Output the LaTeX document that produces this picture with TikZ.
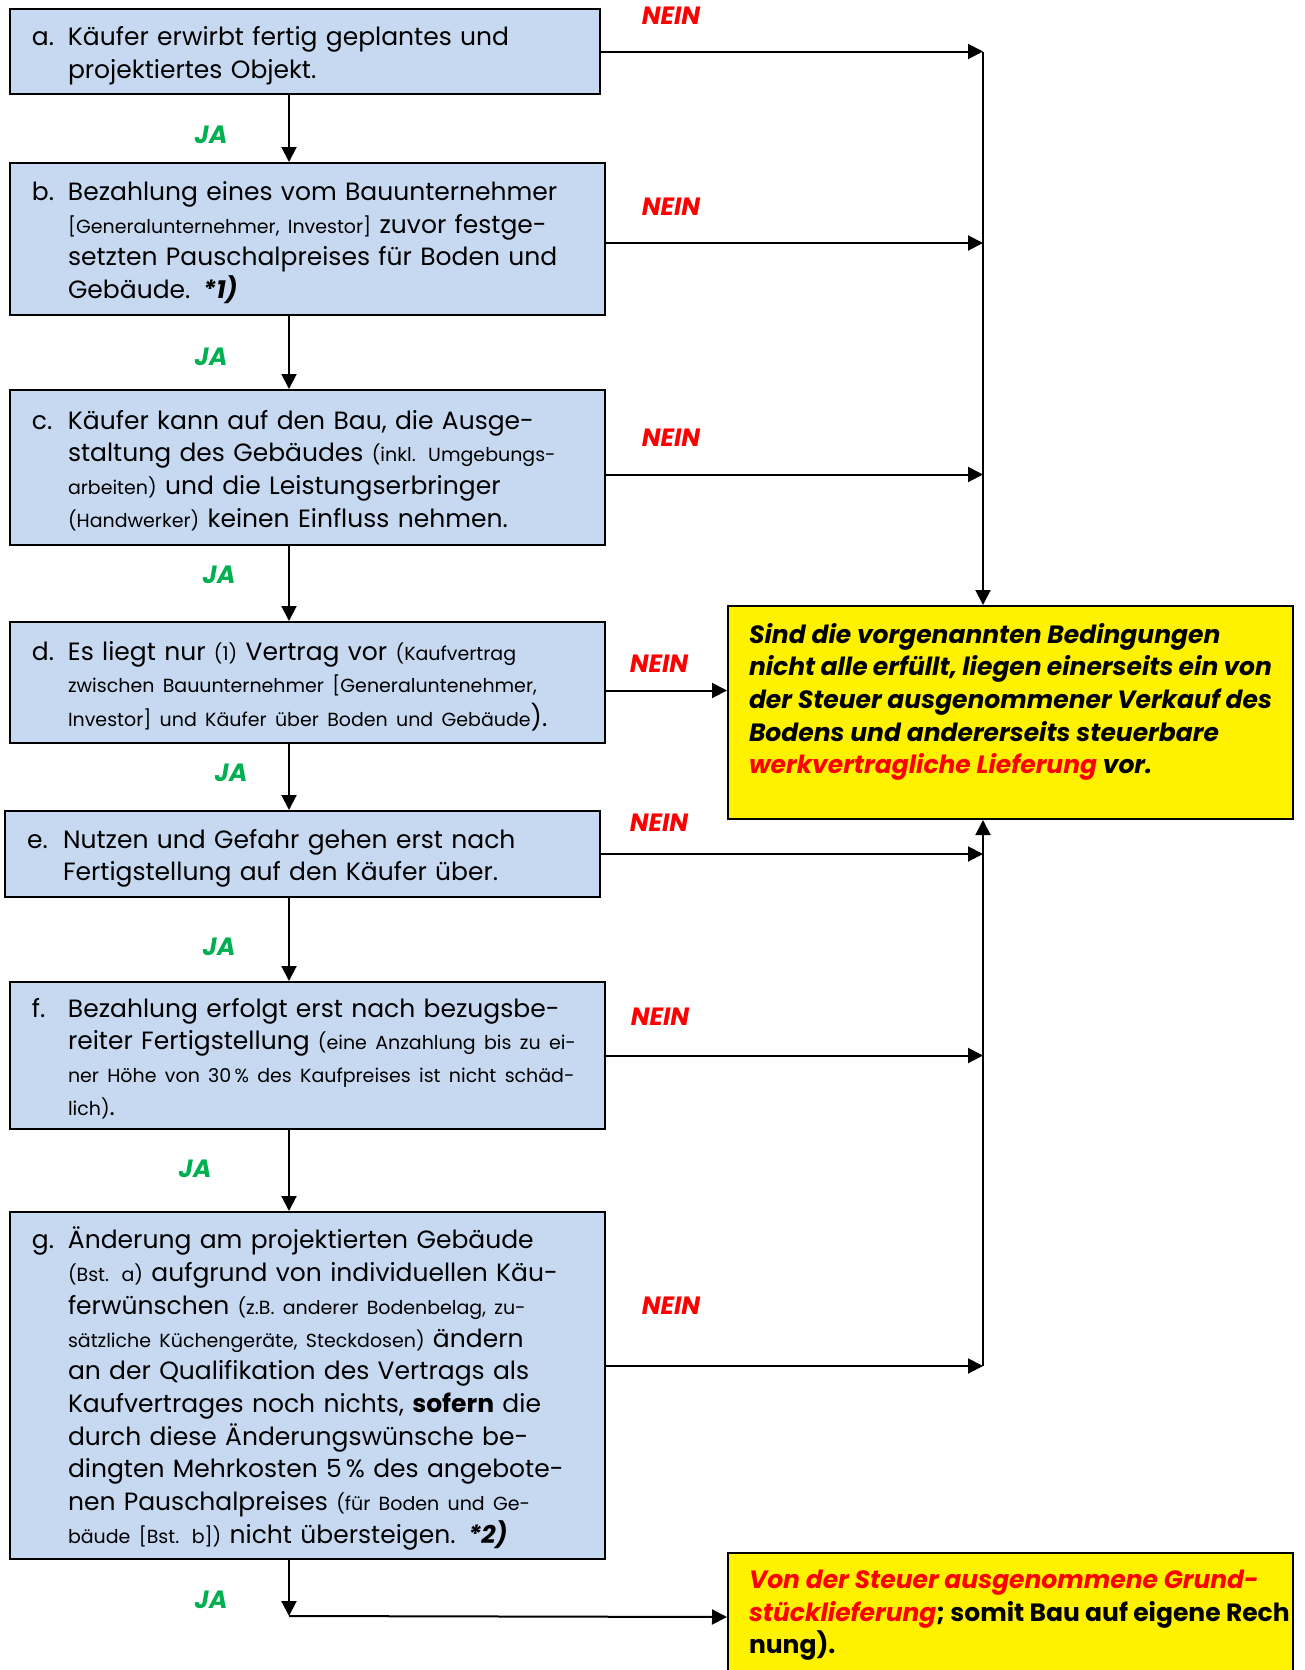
\documentclass[tikz,border=0pt]{standalone}
\usepackage{fontspec}
\setmainfont{Poppins}
\usetikzlibrary{arrows.meta,positioning}
\definecolor{qblue}{HTML}{C6D9F0}
\definecolor{neinred}{HTML}{FF0000}
\definecolor{jagreen}{HTML}{00B050}
\newcommand{\itm}[2]{\makebox[18pt][l]{\rule{0pt}{15.5pt}#1}\begin{tabular}[t]{@{}l@{}}#2\end{tabular}}
\newcommand{\klein}[1]{{\fontsize{9.5}{12}\selectfont #1}}

\begin{document}
\begin{tikzpicture}[
x=0.5pt, y=-0.5pt,
every node/.style={font=\fontsize{12.5}{16.35}\selectfont},
qbox/.style={draw, fill=qblue, line width=1pt, inner xsep=11pt, inner ysep=0pt, text width=275.5pt, align=left},
ybox/.style={draw, fill=yellow, line width=1pt, inner xsep=10.5pt, inner ysep=0pt, anchor=north west,
  font=\fontsize{12.5}{16.35}\selectfont\bfseries\itshape},
neinlbl/.style={text=neinred, font=\fontsize{12.5}{15}\selectfont\bfseries\itshape},
jalbl/.style={text=jagreen, font=\fontsize{12.5}{15}\selectfont\bfseries\itshape},
arr/.style={line width=1pt, -{Triangle[length=7.5pt,width=7.5pt]}}
]
\useasboundingbox (0,0) rectangle (1305,1670);
\clip (0,0) rectangle (1305,1670);

% question boxes
\node[qbox, text width=273pt, minimum height=42.5pt] (a) at (305,51.5)
  {\itm{a.}{Käufer erwirbt fertig geplantes und\\projektiertes Objekt.}};
\node[qbox, minimum height=76pt] (b) at (307.5,239)
  {\itm{b.}{Bezahlung eines vom Bauunternehmer\\\klein{[Generalunternehmer, Investor]} zuvor festge-\\setzten Pauschalpreises für Boden und\\Gebäude. \textbf{\textit{*1)}}}};
\node[qbox, minimum height=77.5pt] (c) at (307.5,467.5)
  {\itm{c.}{Käufer kann auf den Bau, die Ausge-\\staltung des Gebäudes \klein{(inkl. Umgebungs-}\\\klein{arbeiten)} und die Leistungserbringer\\\klein{(Handwerker)} keinen Einfluss nehmen.}};
\node[qbox, minimum height=60.5pt] (d) at (307.5,682.5)
  {\itm{d.}{Es liegt nur \klein{(1)} Vertrag vor \klein{(Kaufvertrag}\\\klein{zwischen Bauunternehmer [Generaluntenehmer,}\\\klein{Investor] und Käufer über Boden und Gebäude}).}};
\node[qbox, text width=275.5pt, minimum height=43pt] (e) at (302.5,854)
  {\itm{e.}{Nutzen und Gefahr gehen erst nach\\Fertigstellung auf den Käufer über.}};
\node[qbox, minimum height=73.5pt] (f) at (307.5,1055.5)
  {\itm{f.}{Bezahlung erfolgt erst nach bezugsbe-\\reiter Fertigstellung \klein{(eine Anzahlung bis zu ei-}\\\klein{ner Höhe von 30\,\% des Kaufpreises ist nicht schäd-}\\\klein{lich)}.}};
\node[qbox, minimum height=173.5pt] (g) at (307.5,1385.5)
  {\itm{g.}{Änderung am projektierten Gebäude\\\klein{(Bst. a)} aufgrund von individuellen Käu-\\ferwünschen \klein{(z.B. anderer Bodenbelag, zu-}\\\klein{sätzliche Küchengeräte, Steckdosen)} ändern\\an der Qualifikation des Vertrags als\\Kaufvertrages noch nichts, \textbf{sofern} die\\durch diese Änderungswünsche be-\\dingten Mehrkosten 5\,\% des angebote-\\nen Pauschalpreises \klein{(für Boden und Ge-}\\\klein{bäude [Bst. b])} nicht übersteigen. \textbf{\textit{*2)}}}};

% result boxes
\node[ybox] (y1) at (727,605)
  {\parbox[c][106.5pt][t]{261.5pt}{\raggedright\vspace*{8.5pt}Sind die vorgenannten Bedingungen\\nicht alle erfüllt, liegen einerseits ein von\\der Steuer ausgenommener Verkauf des\\Bodens und andererseits steuerbare\\\textcolor{neinred}{werkvertragliche Lieferung} vor.}};
\node[ybox] (y2) at (727,1552)
  {\parbox[c][64pt][t]{261.5pt}{\raggedright\vspace*{8.5pt}\textcolor{neinred}{Von der Steuer ausgenommene Grund-}\\\makebox[0pt][l]{\textcolor{neinred}{stücklieferung}\upshape; somit Bau auf eigene Rech}\\{\upshape nung).}}};

% helper coordinates
\coordinate (jx) at (289,0);
\coordinate (bus) at (983,0);
\coordinate (busBot) at (983,1366);
\coordinate (gEnd) at (289,1616);

% JA connectors
\draw[arr] (a.south -| jx) -- (b.north -| jx);
\draw[arr] (b.south -| jx) -- (c.north -| jx);
\draw[arr] (c.south -| jx) -- (d.north -| jx);
\draw[arr] (d.south -| jx) -- (e.north -| jx);
\draw[arr] (e.south -| jx) -- (f.north -| jx);
\draw[arr] (f.south -| jx) -- (g.north -| jx);
\draw[arr] (g.south -| jx) -- (gEnd);
\draw[arr] (gEnd) -- (y2.west);

% NEIN connectors
\draw[arr] (a.east) -- (a.east -| bus);
\draw[arr] ([yshift=-2pt]b.east) -- ([yshift=-2pt]b.east -| bus);
\draw[arr] ([yshift=-3.5pt]c.east) -- ([yshift=-3.5pt]c.east -| bus);
\draw[arr] ([yshift=-4pt]d.east) -- ([yshift=-4pt]d.east -| y1.west);
\draw[arr] (e.east) -- (e.east -| bus);
\draw[arr] (f.east) -- (f.east -| bus);
\draw[arr] (g.east |- busBot) -- (busBot);
\draw[arr] (a.east -| bus) -- (y1.north -| bus);
\draw[arr] (busBot) -- (y1.south -| bus);

% labels
\node[neinlbl] (nA) at (671,16) {NEIN};
\node[neinlbl] (nB) at (671,207) {NEIN};
\node[neinlbl] (nC) at (671,438) {NEIN};
\node[neinlbl] (nD) at (659,664) {NEIN};
\node[neinlbl] (nE) at (659,823) {NEIN};
\node[neinlbl] (nF) at (660,1017) {NEIN};
\node[neinlbl] (nG) at (671,1306) {NEIN};
\node[jalbl] (jA) at (211,135) {JA};
\node[jalbl] (jB) at (211,357) {JA};
\node[jalbl] (jC) at (219,575) {JA};
\node[jalbl] (jD) at (231,773) {JA};
\node[jalbl] (jE) at (219,947) {JA};
\node[jalbl] (jF) at (195,1169) {JA};
\node[jalbl] (jG) at (211,1600) {JA};
\end{tikzpicture}
\end{document}
